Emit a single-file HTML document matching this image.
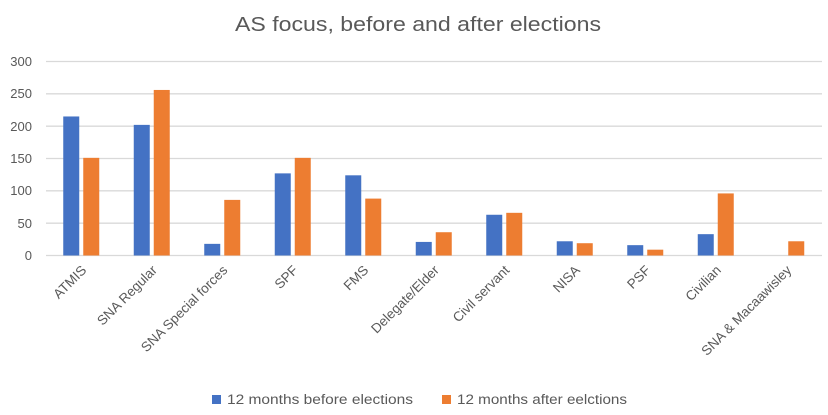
<!DOCTYPE html>
<html><head><meta charset="utf-8"><style>html,body{margin:0;padding:0;background:#fff}svg{display:block}</style></head>
<body>
<svg width="828" height="415" xmlns="http://www.w3.org/2000/svg" font-family="'Liberation Sans',sans-serif">
<rect width="828" height="415" fill="#fff"/>
<text x="418" y="31" font-size="20" fill="#595959" text-anchor="middle" textLength="366" lengthAdjust="spacingAndGlyphs">AS focus, before and after elections</text>
<g stroke="#d9d9d9" stroke-width="1.3">
<line x1="46" x2="822" y1="61.5" y2="61.5"/><line x1="46" x2="822" y1="93.8" y2="93.8"/><line x1="46" x2="822" y1="126.2" y2="126.2"/><line x1="46" x2="822" y1="158.5" y2="158.5"/><line x1="46" x2="822" y1="190.8" y2="190.8"/><line x1="46" x2="822" y1="223.2" y2="223.2"/><line x1="46" x2="822" y1="255.5" y2="255.5"/>
</g>
<g font-size="13" fill="#595959" text-anchor="end">
<text x="32" y="66">300</text><text x="32" y="98">250</text><text x="32" y="131">200</text><text x="32" y="163">150</text><text x="32" y="195">100</text><text x="32" y="228">50</text><text x="32" y="260">0</text>
</g>
<g id="bars"></g>
<g id="labels" font-size="13.5" fill="#595959" text-anchor="end"></g>
<rect x="212" y="395" width="9" height="9" fill="#4472C4"/>
<text x="227" y="404" font-size="13.5" fill="#595959" textLength="186" lengthAdjust="spacingAndGlyphs">12 months before elections</text>
<rect x="442" y="395" width="9" height="9" fill="#ED7D31"/>
<text x="457" y="404" font-size="13.5" fill="#595959" textLength="170" lengthAdjust="spacingAndGlyphs">12 months after eelctions</text>
<script>
var d=[["ATMIS",215,151],["SNA Regular",202,256],["SNA Special forces",18,86],["SPF",127,151],["FMS",124,88],["Delegate/Elder",21,36],["Civil servant",63,66],["NISA",22,19],["PSF",16,9],["Civilian",33,96],["SNA & Macaawisley",0,22]];
var ns="http://www.w3.org/2000/svg",b=document.getElementById("bars"),l=document.getElementById("labels");
var k=194/300;
d.forEach(function(r,i){var c=46+70.5*(i+0.5);
[[r[1],c-18,"#4472C4"],[r[2],c+2,"#ED7D31"]].forEach(function(s){if(!s[0])return;var e=document.createElementNS(ns,"rect");var h=s[0]*k;e.setAttribute("x",s[1]);e.setAttribute("width",16);e.setAttribute("y",255.5-h);e.setAttribute("height",h);e.setAttribute("fill",s[2]);b.appendChild(e);});
var t=document.createElementNS(ns,"text");t.setAttribute("transform","translate("+(c+6)+",271) rotate(-45)");t.textContent=r[0];l.appendChild(t);});
</script>
</svg>
</body></html>
